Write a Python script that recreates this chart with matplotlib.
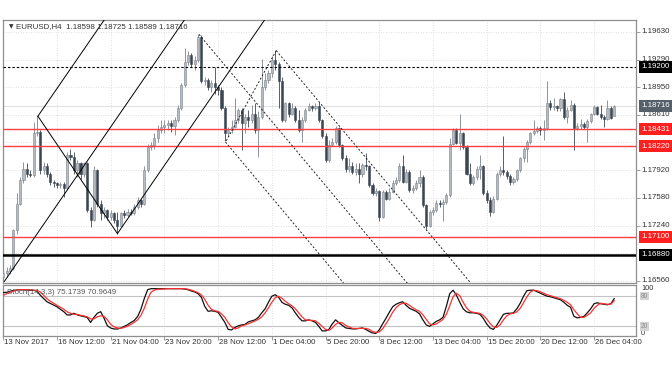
import matplotlib
matplotlib.use('Agg')
import matplotlib.pyplot as plt
from matplotlib.transforms import blended_transform_factory, ScaledTranslation
import numpy as np

plt.rcParams['font.family'] = ['Liberation Sans', 'DejaVu Sans']

# ---------------- data (EURUSD H4) ----------------
opens = [1.1660, 1.1665, 1.1668, 1.1671, 1.1718, 1.1751, 1.1780, 1.1794, 1.1788, 1.1786,
         1.1838, 1.1840, 1.1792, 1.1797, 1.1788, 1.1778, 1.1776, 1.1774, 1.1775, 1.1770,
         1.1811, 1.1809, 1.1792, 1.1801, 1.1788, 1.1801, 1.1743, 1.1731, 1.1792, 1.1751,
         1.1739, 1.1743, 1.1735, 1.1739, 1.1731, 1.1724, 1.1739, 1.1737, 1.1741, 1.1740,
         1.1747, 1.1755, 1.1751, 1.1792, 1.1821, 1.1823, 1.1832, 1.1842, 1.1846, 1.1848,
         1.1850, 1.1847, 1.1854, 1.1869, 1.1898, 1.1926, 1.1935, 1.1924, 1.1928, 1.1957,
         1.1902, 1.1904, 1.1895, 1.1900, 1.1895, 1.1891, 1.1869, 1.1838, 1.1842, 1.1846,
         1.1854, 1.1867, 1.1850, 1.1858, 1.1854, 1.1862, 1.1842, 1.1858, 1.1895, 1.1904,
         1.1912, 1.1928, 1.1924, 1.1902, 1.1854, 1.1875, 1.1862, 1.1869, 1.1854, 1.1842,
         1.1854, 1.1867, 1.1871, 1.1869, 1.1872, 1.1854, 1.1834, 1.1805, 1.1823, 1.1827,
         1.1844, 1.1823, 1.1807, 1.1794, 1.1797, 1.1790, 1.1794, 1.1788, 1.1799, 1.1797,
         1.1774, 1.1764, 1.1767, 1.1735, 1.1766, 1.1757, 1.1766, 1.1776, 1.1780, 1.1797,
         1.1778, 1.1790, 1.1768, 1.1770, 1.1776, 1.1784, 1.1749, 1.1724, 1.1741, 1.1743,
         1.1752, 1.1751, 1.1753, 1.1762, 1.1825, 1.1842, 1.1826, 1.1838, 1.1821, 1.1788,
         1.1776, 1.1784, 1.1794, 1.1797, 1.1764, 1.1755, 1.1741, 1.1757, 1.1788, 1.1792,
         1.1790, 1.1785, 1.1778, 1.1781, 1.1792, 1.1807, 1.1819, 1.1827, 1.1838, 1.1841,
         1.1844, 1.1842, 1.1844, 1.1875, 1.1870, 1.1871, 1.1869, 1.1880, 1.1858, 1.1867,
         1.1873, 1.1844, 1.1847, 1.1849, 1.1846, 1.1853, 1.1862, 1.1870, 1.1862, 1.1858,
         1.1855, 1.1869, 1.18598]
highs = [1.1667, 1.1673, 1.1675, 1.1720, 1.1764, 1.1784, 1.1803, 1.1801, 1.1792, 1.1852,
         1.1859, 1.1842, 1.1803, 1.1801, 1.1790, 1.1780, 1.1778, 1.1778, 1.1778, 1.1815,
         1.1819, 1.1815, 1.1805, 1.1803, 1.1803, 1.1803, 1.1747, 1.1797, 1.1794, 1.1755,
         1.1747, 1.1745, 1.1743, 1.1741, 1.1741, 1.1741, 1.1743, 1.1745, 1.1745, 1.1751,
         1.1759, 1.1757, 1.1797, 1.1825, 1.1827, 1.1838, 1.1848, 1.1854, 1.1854, 1.1854,
         1.1854, 1.1858, 1.1873, 1.1900, 1.1943, 1.1939, 1.1937, 1.1933, 1.1960, 1.1959,
         1.1908, 1.1906, 1.1904, 1.1920, 1.1898, 1.1895, 1.1871, 1.1846, 1.1854, 1.1881,
         1.1869, 1.1869, 1.1862, 1.1867, 1.1873, 1.1875, 1.1865, 1.1930, 1.1912, 1.1916,
         1.1933, 1.1940, 1.1926, 1.1908, 1.1877, 1.1877, 1.1875, 1.1871, 1.1867, 1.1858,
         1.1869, 1.1875, 1.1873, 1.1875, 1.1877, 1.1856, 1.1838, 1.1830, 1.1832, 1.1847,
         1.1846, 1.1825, 1.1811, 1.1807, 1.1803, 1.1801, 1.1801, 1.1801, 1.1813, 1.1799,
         1.1776, 1.1770, 1.1768, 1.1768, 1.1768, 1.1770, 1.1780, 1.1784, 1.1801, 1.1811,
         1.1794, 1.1792, 1.1774, 1.1780, 1.1792, 1.1786, 1.1751, 1.1743, 1.1747, 1.1755,
         1.1755, 1.1757, 1.1764, 1.1832, 1.1844, 1.1844, 1.1862, 1.1840, 1.1823, 1.1801,
         1.1786, 1.1797, 1.1811, 1.1799, 1.1768, 1.1759, 1.1760, 1.1790, 1.1797, 1.1834,
         1.1793, 1.1788, 1.1784, 1.1794, 1.1809, 1.1821, 1.1830, 1.1840, 1.1854, 1.1847,
         1.1847, 1.1854, 1.1902, 1.1879, 1.1881, 1.1873, 1.1882, 1.1889, 1.1870, 1.1879,
         1.1875, 1.1850, 1.1856, 1.1852, 1.1856, 1.1863, 1.1873, 1.1872, 1.1873, 1.1861,
         1.1879, 1.1871, 1.18725]
lows = [1.1657, 1.1661, 1.1664, 1.1669, 1.1714, 1.1749, 1.1776, 1.1784, 1.1784, 1.1784,
        1.1834, 1.1788, 1.1788, 1.1784, 1.1774, 1.1772, 1.1770, 1.1770, 1.1759, 1.1768,
        1.1805, 1.1788, 1.1784, 1.1782, 1.1784, 1.1741, 1.1722, 1.1729, 1.1747, 1.1731,
        1.1733, 1.1731, 1.1731, 1.1727, 1.1714, 1.1722, 1.1733, 1.1735, 1.1737, 1.1737,
        1.1745, 1.1747, 1.1749, 1.1790, 1.1817, 1.1819, 1.1827, 1.1838, 1.1838, 1.1842,
        1.1840, 1.1836, 1.1852, 1.1867, 1.1895, 1.1922, 1.1920, 1.1916, 1.1926, 1.1900,
        1.1898, 1.1891, 1.1889, 1.1887, 1.1885, 1.1867, 1.1828, 1.1834, 1.1838, 1.1844,
        1.1850, 1.1817, 1.1838, 1.1846, 1.1850, 1.1838, 1.1809, 1.1856, 1.1891, 1.1900,
        1.1908, 1.1916, 1.1869, 1.1852, 1.1852, 1.1858, 1.1860, 1.1852, 1.1840, 1.1827,
        1.1852, 1.1865, 1.1865, 1.1867, 1.1852, 1.1832, 1.1803, 1.1803, 1.1822, 1.1825,
        1.1821, 1.1805, 1.1790, 1.1790, 1.1788, 1.1786, 1.1776, 1.1784, 1.1792, 1.1772,
        1.1762, 1.1760, 1.1729, 1.1733, 1.1755, 1.1755, 1.1764, 1.1774, 1.1778, 1.1776,
        1.1776, 1.1766, 1.1764, 1.1768, 1.1772, 1.1747, 1.1720, 1.1722, 1.1737, 1.1741,
        1.1747, 1.1729, 1.1751, 1.1759, 1.1823, 1.1825, 1.1817, 1.1819, 1.1786, 1.1774,
        1.1774, 1.1780, 1.1782, 1.1762, 1.1752, 1.1736, 1.1739, 1.1755, 1.1785, 1.1786,
        1.1782, 1.1774, 1.1775, 1.1779, 1.1790, 1.1803, 1.1803, 1.1825, 1.1836, 1.1838,
        1.1836, 1.1830, 1.1842, 1.1867, 1.1867, 1.1866, 1.1866, 1.1856, 1.1850, 1.1865,
        1.1817, 1.1842, 1.1843, 1.1843, 1.1827, 1.1851, 1.1860, 1.1860, 1.1856, 1.1846,
        1.1854, 1.1855, 1.18589]
closes = [1.1665, 1.1668, 1.1671, 1.1718, 1.1751, 1.1780, 1.1794, 1.1788, 1.1786, 1.1838,
          1.1840, 1.1792, 1.1797, 1.1788, 1.1778, 1.1776, 1.1774, 1.1775, 1.1770, 1.1811,
          1.1809, 1.1792, 1.1801, 1.1788, 1.1801, 1.1743, 1.1731, 1.1792, 1.1751, 1.1739,
          1.1743, 1.1735, 1.1739, 1.1731, 1.1724, 1.1739, 1.1737, 1.1741, 1.1740, 1.1747,
          1.1755, 1.1751, 1.1792, 1.1821, 1.1823, 1.1832, 1.1842, 1.1846, 1.1848, 1.1850,
          1.1847, 1.1854, 1.1869, 1.1898, 1.1926, 1.1935, 1.1924, 1.1928, 1.1957, 1.1902,
          1.1904, 1.1895, 1.1900, 1.1895, 1.1891, 1.1869, 1.1838, 1.1842, 1.1846, 1.1854,
          1.1867, 1.1850, 1.1858, 1.1854, 1.1862, 1.1842, 1.1858, 1.1895, 1.1904, 1.1912,
          1.1928, 1.1924, 1.1902, 1.1854, 1.1875, 1.1862, 1.1869, 1.1854, 1.1842, 1.1854,
          1.1867, 1.1871, 1.1869, 1.1872, 1.1854, 1.1834, 1.1805, 1.1823, 1.1827, 1.1844,
          1.1823, 1.1807, 1.1794, 1.1797, 1.1790, 1.1794, 1.1788, 1.1799, 1.1797, 1.1774,
          1.1764, 1.1767, 1.1735, 1.1766, 1.1757, 1.1766, 1.1776, 1.1780, 1.1797, 1.1778,
          1.1790, 1.1768, 1.1770, 1.1776, 1.1784, 1.1749, 1.1724, 1.1741, 1.1743, 1.1752,
          1.1751, 1.1753, 1.1762, 1.1825, 1.1842, 1.1826, 1.1838, 1.1821, 1.1788, 1.1776,
          1.1784, 1.1794, 1.1797, 1.1764, 1.1755, 1.1741, 1.1757, 1.1788, 1.1792, 1.1790,
          1.1785, 1.1778, 1.1781, 1.1792, 1.1807, 1.1819, 1.1827, 1.1838, 1.1841, 1.1844,
          1.1842, 1.1844, 1.1875, 1.1870, 1.1871, 1.1869, 1.1880, 1.1858, 1.1867, 1.1873,
          1.1844, 1.1847, 1.1849, 1.1846, 1.1853, 1.1862, 1.1870, 1.1862, 1.1858, 1.1855,
          1.1869, 1.1857, 1.18716]

stoch_k = [87.2, 87.8, 89.8, 91.7, 92.4, 93.0, 93.0, 92.4, 91.7, 91.7, 90.4,
           82.0, 75.4, 69.0, 65.6, 62.4, 59.0, 54.0, 49.3, 42.8, 42.8,
           46.0, 43.0, 41.0, 39.6, 37.6, 27.8, 38.0, 46.0, 49.3, 36.3,
           21.3, 16.7, 14.8, 14.8, 16.7, 20.0, 23.2, 27.8, 31.7, 39.6,
           54.0, 75.4, 93.0, 95.0, 95.0, 95.0, 95.0, 95.0, 95.0, 95.0,
           95.0, 95.0, 95.0, 94.3, 93.0, 90.4, 88.5, 85.0, 78.0, 60.0,
           50.0, 51.0, 50.0, 48.0, 38.0, 28.0, 14.0, 13.0, 18.0, 21.0,
           23.0, 24.0, 29.0, 31.0, 33.0, 38.0, 47.0, 55.0, 68.0, 80.0,
           83.0, 78.0, 68.0, 64.0, 62.0, 57.0, 47.0, 38.0, 31.0, 31.0,
           33.0, 31.0, 28.0, 20.0, 11.0, 11.0, 14.0, 25.0, 33.0, 27.0,
           22.0, 17.0, 16.0, 15.0, 15.0, 16.0, 17.0, 14.0, 10.0, 7.0,
           6.0, 13.0, 25.0, 36.0, 48.0, 59.0, 64.0, 67.0, 69.0, 62.0,
           56.0, 53.0, 50.0, 45.0, 33.0, 23.0, 20.0, 25.0, 30.0, 33.0,
           38.0, 60.0, 85.0, 92.0, 82.0, 68.0, 55.0, 49.0, 47.0, 47.0,
           46.0, 44.0, 36.0, 25.0, 17.0, 14.0, 22.0, 33.0, 44.0, 46.0,
           46.0, 47.0, 55.0, 66.0, 80.0, 91.0, 92.0, 92.0, 89.0, 86.0,
           83.0, 80.0, 79.0, 77.0, 75.0, 73.0, 68.0, 62.0, 58.0, 40.0,
           37.0, 38.0, 40.0, 47.0, 55.0, 65.0, 67.0, 65.0, 64.0, 63.0,
           65.0, 75.17]
stoch_d = [82, 85, 88, 90, 92, 93, 93, 93, 92.5, 92, 91.5,
           88.5, 82, 75, 70, 66, 62, 58, 54, 49, 46,
           44, 44, 42, 41, 39, 35, 35, 39, 41, 40,
           33, 24, 19, 17, 16, 18, 20, 24, 28, 33,
           42, 56, 74, 88, 92, 94, 94, 94.5, 95, 95,
           95, 95, 95, 95, 94, 92, 90, 87, 83, 74,
           62, 54, 51, 50, 45, 38, 27, 19, 15, 17,
           21, 23, 25, 28, 31, 34, 39, 47, 57, 68,
           77, 80, 76, 70, 65, 61, 55, 47, 39, 33,
           32, 32, 31, 26, 20, 14, 12, 17, 24, 28,
           27, 22, 19, 16, 16, 16, 16, 16, 14, 10,
           8, 9, 15, 25, 36, 48, 57, 63, 66, 66,
           62, 57, 53, 50, 43, 34, 25, 23, 25, 29,
           34, 44, 61, 79, 86, 81, 68, 57, 50, 48,
           47, 46, 42, 35, 26, 19, 18, 23, 33, 41,
           45, 46, 49, 56, 67, 79, 88, 92, 91, 89,
           86, 83, 81, 79, 77, 75, 72, 68, 63, 53,
           45, 38, 38, 42, 47, 56, 62, 66, 65, 64,
           64, 70.96]

tick_bars = [0, 16, 32, 48, 64, 80, 96, 112, 128, 144, 160, 176]
tick_labels = ['13 Nov 2017', '16 Nov 12:00', '21 Nov 04:00', '23 Nov 20:00',
               '28 Nov 12:00', '1 Dec 04:00', '5 Dec 20:00', '8 Dec 12:00',
               '13 Dec 04:00', '15 Dec 20:00', '20 Dec 12:00', '26 Dec 04:00']
price_axis_levels = [1.19630, 1.19290, 1.18950, 1.18610, 1.17920, 1.17580, 1.17240, 1.16560]
grid_levels = [1.19630, 1.19290, 1.18950, 1.18610, 1.18270, 1.17920, 1.17580, 1.17240, 1.16900, 1.16560]
red_levels = [1.18431, 1.18220, 1.17100]
black_level = 1.16880
dashed_level = 1.19200
last_price = 1.18716

# pitchfork anchors (bar index, price)
fork1 = [(0.3, 1.1655), (10.3, 1.1859), (34.0, 1.1714)]
fork2 = [(58.3, 1.1960), (81.3, 1.1940), (66.2, 1.1827)]

header = 'EURUSD,H4  1.18598 1.18725 1.18589 1.18716'
stoch_header = 'Stoch(14,3,3) 75.1739 70.9649'

# ---------------- figure ----------------
W, H = 672, 372
fig = plt.figure(figsize=(W / 100, H / 100), dpi=100)


def px_axes(l, t, r, b):
    return fig.add_axes([l / W, 1 - b / H, (r - l) / W, (b - t) / H])


ax = px_axes(3, 20, 636, 283)
ax2 = px_axes(3, 285, 636, 336)
FS = 5.7
frame_col = '#8f8f8f'
for a in (ax, ax2):
    for s in a.spines.values():
        s.set_color(frame_col)
        s.set_linewidth(0.9)

# grid
for tb in tick_bars:
    ax.axvline(tb, color='#d6d6d6', lw=0.6, ls=(0, (1, 2)), zorder=0)
    ax2.axvline(tb, color='#d6d6d6', lw=0.6, ls=(0, (1, 2)), zorder=0)
for gl in grid_levels:
    ax.axhline(gl, color='#d6d6d6', lw=0.6, ls=(0, (1, 2)), zorder=0)
ax.axhline(last_price, color='#dcdcdc', lw=0.6, zorder=0.5)

# candles
x = np.arange(len(closes))
o = np.array(opens); h = np.array(highs); l = np.array(lows); c = np.array(closes)
up = c >= o
dn = ~up
bull_fc, bull_ec, bear_c = '#b5bbc1', '#7b838b', '#3b4651'
ax.vlines(x[up], l[up], h[up], color=bull_ec, lw=0.6, zorder=2)
ax.vlines(x[dn], l[dn], h[dn], color=bear_c, lw=0.6, zorder=2)
bot = np.minimum(o, c)
bh = np.maximum(np.abs(c - o), 0.00004)
ax.bar(x[up], bh[up], bottom=bot[up], width=0.62, color=bull_fc, edgecolor=bull_ec,
       linewidth=0.4, zorder=3)
ax.bar(x[dn], bh[dn], bottom=bot[dn], width=0.62, color=bear_c, edgecolor=bear_c,
       linewidth=0.4, zorder=3)

# horizontal levels
for rl in red_levels:
    ax.axhline(rl, color='#ff4040', lw=1.0, zorder=4)
ax.axhline(black_level, color='black', lw=1.8, zorder=4)
ax.axhline(dashed_level, color='black', lw=0.8, ls=(0, (2.2, 1.8)), zorder=4)


def pitchfork(A, B, C, **kw):
    mx, my = (B[0] + C[0]) / 2, (B[1] + C[1]) / 2
    slope = (my - A[1]) / (mx - A[0])
    xe = 400
    for P in (A, B, C):
        ax.plot([P[0], xe], [P[1], P[1] + slope * (xe - P[0])], **kw)
    ax.plot([B[0], C[0]], [B[1], C[1]], **kw)


pitchfork(*fork1, color='black', lw=0.7, zorder=5)
pitchfork(*fork2, color='#222222', lw=0.7, ls=(0, (2, 2)), zorder=5)

ax.set_xlim(-0.1, 188.5)
ax.set_ylim(1.16530, 1.19778)
ax.set_xticks([])
ax.yaxis.tick_right()
ax.set_yticks(price_axis_levels)
ax.set_yticklabels([])
ax.tick_params(axis='y', length=3, width=0.6, color=frame_col)

# right price labels
tr = blended_transform_factory(ax.transAxes, ax.transData) + ScaledTranslation(5 / 100, 0, fig.dpi_scale_trans)
for lv in price_axis_levels:
    ax.text(1.0, lv, f'{lv:.5f}', transform=tr, fontsize=FS, color='#333333',
            va='center', ha='left', clip_on=False)
boxed = [(dashed_level, 'black'), (last_price, '#56606a'),
         (red_levels[0], '#ff1f1f'), (red_levels[1], '#ff1f1f'),
         (red_levels[2], '#ff1f1f'), (black_level, 'black')]
for lv, bg in boxed:
    ax.text(1.0, lv, f'{lv:.5f}', transform=tr, fontsize=FS, color='white',
            va='center', ha='left', clip_on=False, zorder=10,
            bbox=dict(boxstyle='square,pad=0.3', fc=bg, ec='none'))

# header
fig.text(8.5 / W, 1 - 26.8 / H, '▼', fontsize=4.2, color='#333333', va='center',
         ha='left', family=['DejaVu Sans'])
fig.text(16 / W, 1 - 26.8 / H, header, fontsize=FS, color='#333333', va='center', ha='left')

# stochastic
ax2.axhline(80, color='#c4c4c4', lw=0.8, zorder=1)
ax2.axhline(20, color='#c4c4c4', lw=0.8, zorder=1)
ax2.plot(x, stoch_k, color='#111111', lw=0.9, zorder=3)
ax2.plot(x, stoch_d, color='#ff3030', lw=0.9, zorder=4)
ax2.set_xlim(-0.1, 188.5)
ax2.set_ylim(0.9, 102.3)
ax2.set_yticks([])
ax2.set_xticks(tick_bars)
ax2.set_xticklabels([])
ax2.tick_params(axis='x', length=3, width=0.6, color=frame_col, direction='out')

tx = ax2.get_xaxis_transform() + ScaledTranslation(1 / 100, -6.8 / 100, fig.dpi_scale_trans)
for tb, lab in zip(tick_bars, tick_labels):
    ax2.text(tb, 0, lab, transform=tx, fontsize=FS, color='#333333', va='center',
             ha='left', clip_on=False)

tr2 = blended_transform_factory(ax2.transAxes, ax2.transData) + ScaledTranslation(5 / 100, 0, fig.dpi_scale_trans)
ax2.text(1.0, 94.5, '100', transform=tr2, fontsize=FS - 0.4, color='#333333', va='center',
         ha='left', clip_on=False)
ax2.text(1.0, 5.5, '0', transform=tr2, fontsize=FS - 0.4, color='#333333', va='center',
         ha='left', clip_on=False)
for lv in (80, 20):
    ax2.text(1.0, lv, str(lv), transform=tr2, fontsize=FS - 0.9, color='#8a8a8a', va='center',
             ha='left', clip_on=False,
             bbox=dict(boxstyle='square,pad=0.1', fc='#d4d4d4', ec='none'))
fig.text(7 / W, 1 - 292 / H, stoch_header, fontsize=FS, color='#555555', va='center', ha='left')

fig.savefig('out.png', dpi=100)
